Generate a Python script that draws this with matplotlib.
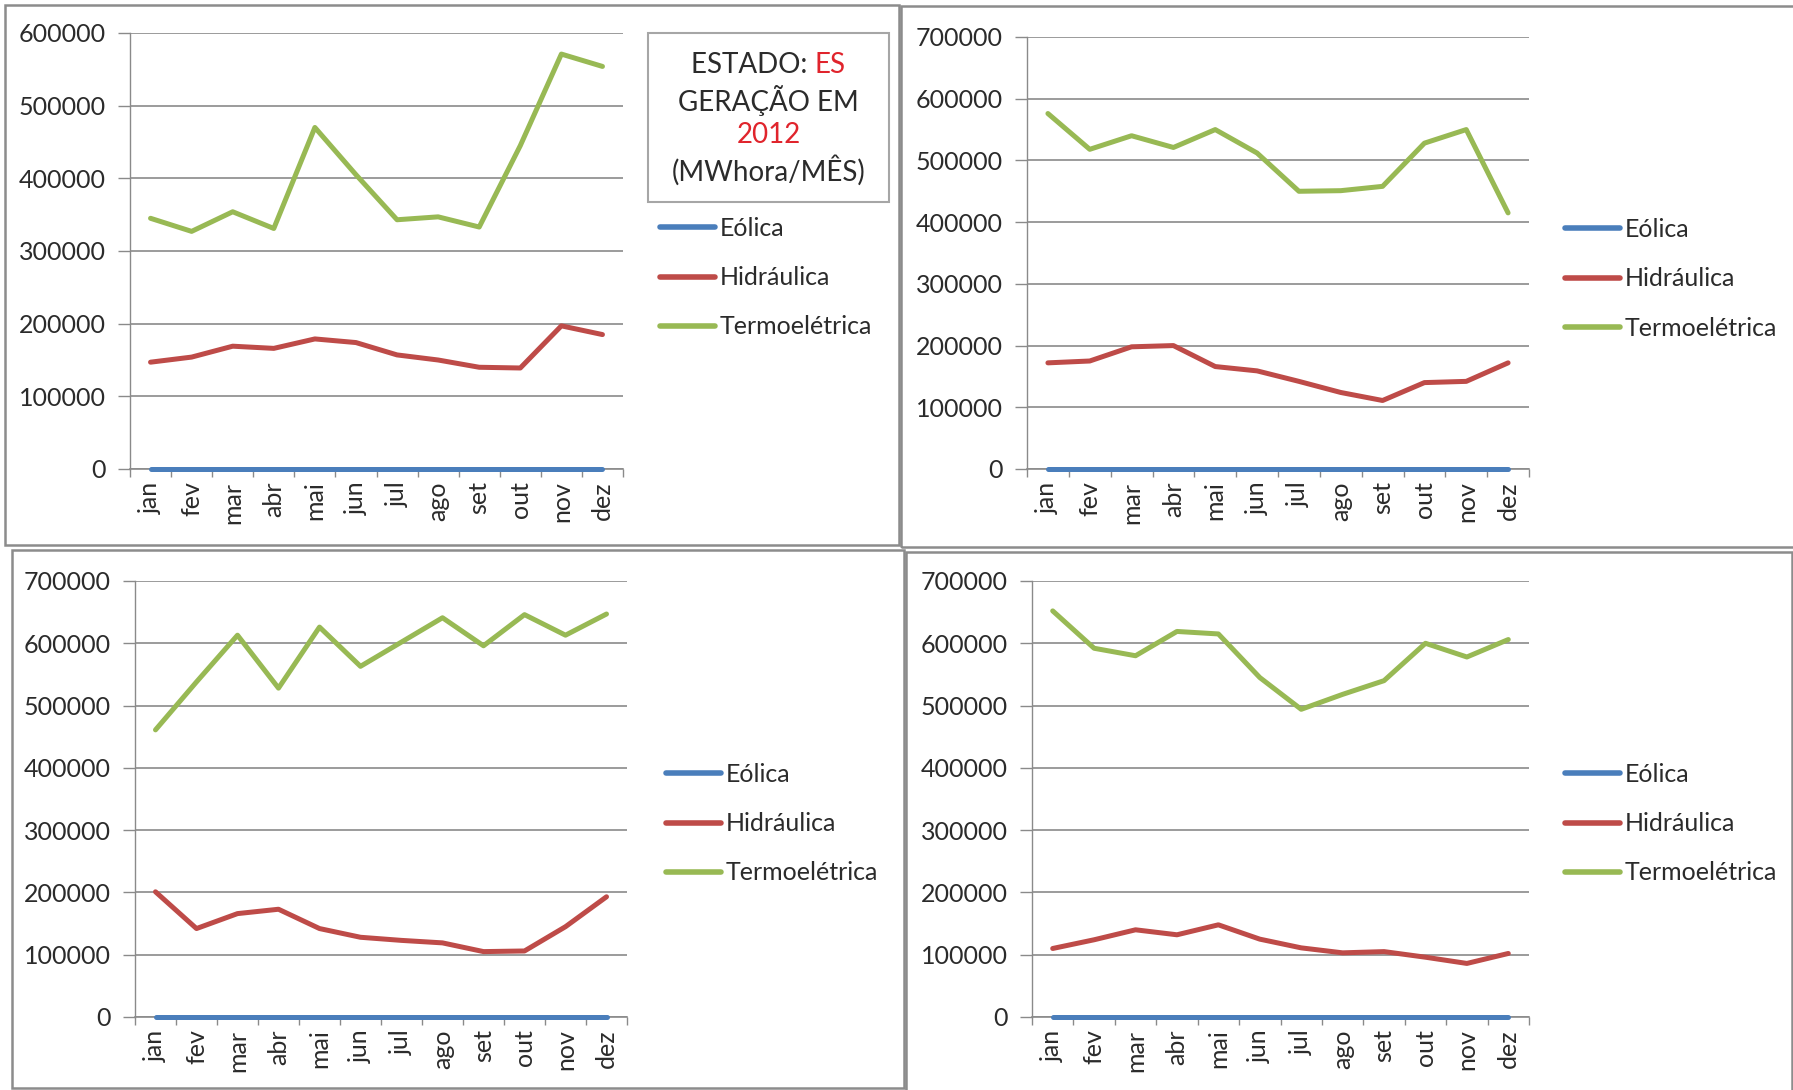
import matplotlib
matplotlib.use("Agg")
import matplotlib.pyplot as plt
from matplotlib.patches import Rectangle
from matplotlib.ticker import MultipleLocator, FixedLocator

plt.rcParams["font.family"] = ["Lato", "DejaVu Sans"]

W, H = 1793, 1090

meses = ["jan", "fev", "mar", "abr", "mai", "jun", "jul", "ago", "set", "out", "nov", "dez"]
series_nomes = ["Eólica", "Hidráulica", "Termoelétrica"]

# Geração mensal (MWh) por fonte, quatro painéis
eolica_a = [0, 0, 0, 0, 0, 0, 0, 0, 0, 0, 0, 0]
hidraulica_a = [147000, 154000, 169000, 166000, 179000, 174000, 157000, 150000, 140000, 139000, 197000, 185000]
termo_a = [345000, 327000, 354000, 331000, 470000, 405000, 343000, 347000, 333000, 445000, 571000, 554000]

eolica_b = [0, 0, 0, 0, 0, 0, 0, 0, 0, 0, 0, 0]
hidraulica_b = [172000, 175000, 198000, 200000, 166000, 159000, 142000, 124000, 111000, 140000, 142000, 172000]
termo_b = [576000, 518000, 540000, 521000, 550000, 512000, 450000, 451000, 458000, 528000, 550000, 415000]

eolica_c = [0, 0, 0, 0, 0, 0, 0, 0, 0, 0, 0, 0]
hidraulica_c = [201000, 142000, 166000, 173000, 142000, 128000, 123000, 119000, 105000, 106000, 145000, 193000]
termo_c = [461000, 538000, 613000, 528000, 626000, 563000, 602000, 641000, 596000, 646000, 613000, 647000]

eolica_d = [0, 0, 0, 0, 0, 0, 0, 0, 0, 0, 0, 0]
hidraulica_d = [110000, 124000, 140000, 132000, 148000, 125000, 111000, 103000, 105000, 96000, 86000, 102000]
termo_d = [652000, 592000, 580000, 619000, 615000, 545000, 494000, 518000, 540000, 600000, 578000, 606000]

ymax = [600000, 700000, 700000, 700000]

cores = ["#4A7EBB", "#BE4B48", "#98B954"]
grid_cor = "#8a8a8a"
texto_cor = "#2b2b2b"

fig = plt.figure(figsize=(W / 100, H / 100), dpi=100)
fig.patch.set_facecolor("white")


def px_rect(x0, y0, x1, y1):
    """Pixel box (top-left origin) -> figure fraction [l, b, w, h]."""
    return [x0 / W, 1 - y1 / H, (x1 - x0) / W, (y1 - y0) / H]


# bordas externas de cada painel
bordas = [(5, 5, 899, 545), (901, 6, 1797, 547), (12, 550, 904, 1088), (906, 552, 1792, 1096)]
for x0, y0, x1, y1 in bordas:
    l, b, w, h = px_rect(x0, y0, x1, y1)
    fig.add_artist(Rectangle((l, b), w, h, transform=fig.transFigure,
                             fill=False, edgecolor="#8c8c8c", lw=1.8))

eixos = [(130, 33, 623, 469), (1027, 37, 1529, 469), (135, 581, 627, 1017), (1032, 581, 1529, 1017)]
dados = [
    (eolica_a, hidraulica_a, termo_a),
    (eolica_b, hidraulica_b, termo_b),
    (eolica_c, hidraulica_c, termo_c),
    (eolica_d, hidraulica_d, termo_d),
]
# canto superior esquerdo de cada legenda (px)
legendas = [(660, 217), (1565, 218), (666, 763), (1565, 763)]

x = list(range(len(meses)))
for (box, series, top, leg) in zip(eixos, dados, ymax, legendas):
    ax = fig.add_axes(px_rect(*box))
    ax.set_xlim(-0.5, len(meses) - 0.5)
    ax.set_ylim(0, top)
    for vals, cor, nome in zip(series, cores, series_nomes):
        ax.plot(x, vals, color=cor, lw=3.6, label=nome, zorder=3,
                solid_capstyle="round", solid_joinstyle="round", clip_on=False)
    ax.yaxis.set_major_locator(MultipleLocator(100000))
    ax.grid(axis="y", color=grid_cor, lw=1.2, zorder=0)
    ax.set_axisbelow(True)
    for s in ["top", "right"]:
        ax.spines[s].set_visible(False)
    ax.spines["left"].set_color(grid_cor)
    ax.spines["bottom"].set_color(grid_cor)
    ax.spines["left"].set_linewidth(1.0)
    ax.spines["bottom"].set_linewidth(1.2)
    ax.set_yticklabels([f"{int(v)}" for v in ax.get_yticks()])
    ax.tick_params(axis="y", length=8.5, width=1.0, color=grid_cor, pad=9,
                   labelsize=18, labelcolor=texto_cor)
    ax.set_xticks(x)
    ax.set_xticklabels(meses, rotation=90)
    ax.xaxis.set_minor_locator(FixedLocator([i - 0.5 for i in range(len(meses) + 1)]))
    ax.tick_params(axis="x", which="major", length=0, pad=9, labelsize=18, labelcolor=texto_cor)
    ax.tick_params(axis="x", which="minor", length=6, width=1.0, color=grid_cor)
    lx, ly = leg
    ax.legend(loc="upper left", bbox_to_anchor=(lx / W, 1 - ly / H), bbox_transform=fig.transFigure,
              frameon=False, fontsize=18, handlelength=2.2, handletextpad=0.2,
              labelspacing=1.05, borderpad=0, borderaxespad=0, labelcolor=texto_cor)
    for h in ax.get_legend().get_lines():
        h.set_linewidth(4.0)

# caixa de título do primeiro painel
l, b, w, h = px_rect(648, 33, 889, 202)
fig.add_artist(Rectangle((l, b), w, h, transform=fig.transFigure,
                         fill=False, edgecolor="#a6a6a6", lw=1.5))

vermelho = "#E0242C"
linhas_titulo = [
    [("ESTADO: ", texto_cor), ("ES", vermelho)],
    [("GERAÇÃO EM", texto_cor)],
    [("2012", vermelho)],
    [("(MWhora/MÊS)", texto_cor)],
]
ys_titulo = [65, 100, 135, 170]
cx = 768.5
renderer = fig.canvas.get_renderer()
for partes, yp in zip(linhas_titulo, ys_titulo):
    textos = []
    for s, c in partes:
        t = fig.text(0, 1 - yp / H, s, color=c, fontsize=20, ha="left", va="center")
        textos.append(t)
    larguras = [t.get_window_extent(renderer).width for t in textos]
    xpos = cx - sum(larguras) / 2
    for t, wdt in zip(textos, larguras):
        t.set_x(xpos / W)
        xpos += wdt

fig.savefig("out.png", dpi=100, facecolor="white")
